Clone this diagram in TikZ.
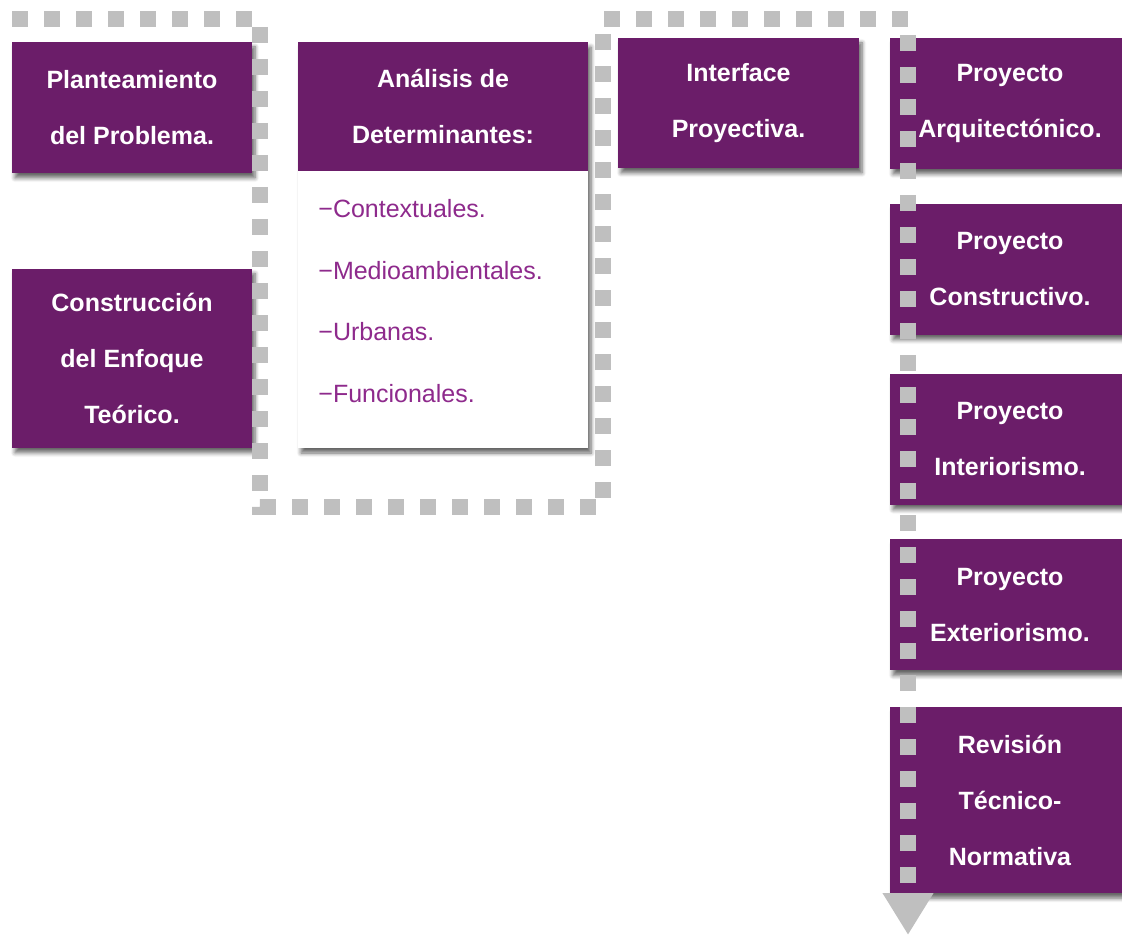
\documentclass[tikz,border=0pt]{standalone}
\usepackage{fontspec}
\setmainfont{Liberation Sans}
\usepackage{xcolor}
\usepackage{tikz}
\usetikzlibrary{arrows.meta,positioning,shadows,shadows.blur}
\definecolor{morado}{HTML}{6B1D69}
\definecolor{moradoclaro}{HTML}{8E2A8C}
\definecolor{grisflujo}{HTML}{BFBFBF}
\tikzset{
  every picture/.style = {
    x = 0.5pt,
    y = -0.5pt,
    node distance = 17pt and 15pt,
  }
  ,
  caja/.style = {
    rectangle,
    fill = morado,
    text = white,
    font = \fontsize{12.5pt}{28pt}\selectfont\bfseries,
    align = center,
    inner sep = 0pt,
    minimum width = 120pt,
    minimum height = 65.5pt
  }
  , % purple stage boxes
  etapa/.style = {
    caja,
    blur shadow = {shadow xshift=1.5pt, shadow yshift=-2.5pt, shadow blur steps=6, shadow opacity=60}
  }
  , % white list box
  cuerpo/.style = {
    rectangle,
    fill = white,
    minimum width = 145pt,
    minimum height = 203pt,
    blur shadow = {shadow xshift=1.5pt, shadow yshift=-2.5pt, shadow blur steps=6, shadow opacity=60}
  }
  , % items of the list
  item-lista/.style = {
    anchor = base west,
    inner sep = 0pt,
    text = moradoclaro,
    font = \fontsize{12.5pt}{15pt}\selectfont
  }
  , % dotted flow line
  flujo/.style = {
    draw = grisflujo,
    line width = 8pt,
    dash pattern = on 8pt off 8pt,
    -{Triangle[width=24pt,length=21pt]}
  }
}
\begin{document}
\begin{tikzpicture}
\useasboundingbox (0,0) rectangle (1122,935);

\node [etapa] (plant) at (132,107.5) {Planteamiento\\del Problema.};
\node [etapa, minimum height=89.5pt, below=47.5pt of plant] (enfoque) {Construcción\\del Enfoque\\Teórico.};

\node [cuerpo] (lista) at (443,245) {};
\node [caja, minimum width=145pt, minimum height=64.5pt, anchor=north] (analisis) at (lista.north) {Análisis de\\Determinantes:};
\node [item-lista] (det1) at (318,218) {−Contextuales.};
\node [item-lista] (det2) at (318,279) {−Medioambientales.};
\node [item-lista] (det3) at (318,340) {−Urbanas.};
\node [item-lista] (det4) at (318,402) {−Funcionales.};

\node [etapa, minimum width=120.5pt, minimum height=65pt] (interfaz) at (738.5,103) {Interface\\Proyectiva.};

\node [etapa] (arq) at (1010,103.5) {Proyecto\\Arquitectónico.};
\node [etapa, below=17pt of arq] (constructivo) {Proyecto\\Constructivo.};
\node [etapa, below=19pt of constructivo] (interior) {Proyecto\\Interiorismo.};
\node [etapa, below=17pt of interior] (exterior) {Proyecto\\Exteriorismo.};
\node [etapa, minimum height=93pt, below=18pt of exterior] (revision) {Revisión\\Técnico-\\Normativa};

% flow line
\coordinate (f0) at (12,19);
\coordinate (f1) at (260,19);
\coordinate (f2) at (260,507);
\coordinate (f3) at (603,507);
\coordinate (f4) at (603,19);
\coordinate (f5) at (908,19);
\coordinate (f6) at (908,935);
\draw [flujo] (f0) -- (f1) -- (f2) -- (f3) -- (f4) -- (f5) -- (f6);
\end{tikzpicture}
\end{document}
